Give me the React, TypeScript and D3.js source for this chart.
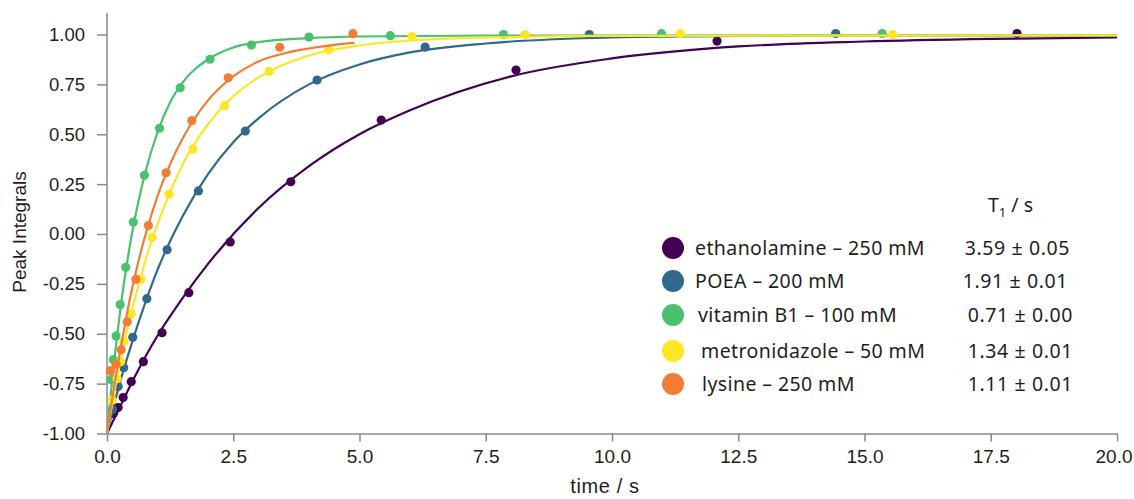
import React, { useRef, useEffect } from 'react'
import * as d3 from 'd3'

const W = 1134
const H = 499

// legend / series info
const seriesNames = ['ethanolamine – 250 mM', 'POEA – 200 mM', 'vitamin B1 – 100 mM', 'metronidazole – 50 mM', 'lysine – 250 mM']
const t1Labels = ['3.59 ± 0.05', '1.91 ± 0.01', '0.71 ± 0.00', '1.34 ± 0.01', '1.11 ± 0.01']
const colors = ['#440154', '#31688e', '#4ac16d', '#fde725', '#f37c34']

const xTicks = [0, 2.5, 5, 7.5, 10, 12.5, 15, 17.5, 20]
const yTicks = [-1, -0.75, -0.5, -0.25, 0, 0.25, 0.5, 0.75, 1]

// measured points [time, integral]
const ethanolaminePts = [[0.125, -0.9], [0.22, -0.87], [0.32, -0.82], [0.48, -0.74], [0.72, -0.64], [1.09, -0.495], [1.62, -0.294], [2.44, -0.04], [3.64, 0.262], [5.43, 0.571], [8.1, 0.822], [12.08, 0.967], [18.02, 1.005]]
const poeaPts = [[0.11, -0.88], [0.22, -0.765], [0.33, -0.67], [0.51, -0.518], [0.79, -0.324], [1.19, -0.079], [1.81, 0.216], [2.74, 0.516], [4.16, 0.772], [6.3, 0.937], [9.55, 1.0], [14.43, 1.005]]
const vitaminPts = [[0.08, -0.73], [0.125, -0.63], [0.18, -0.511], [0.26, -0.354], [0.37, -0.167], [0.52, 0.06], [0.74, 0.294], [1.04, 0.53], [1.45, 0.733], [2.04, 0.876], [2.86, 0.947], [4.0, 0.987], [5.61, 0.994], [7.85, 1.0], [10.98, 1.004], [15.35, 1.005]]
const metronidazolePts = [[0.105, -0.832], [0.2, -0.725], [0.27, -0.64], [0.34, -0.538], [0.48, -0.4], [0.67, -0.227], [0.89, -0.018], [1.23, 0.2], [1.7, 0.426], [2.33, 0.643], [3.21, 0.815], [4.39, 0.924], [6.04, 0.99], [8.28, 1.0], [11.35, 1.004], [15.56, 1.0]]
const lysinePts = [[0.07, -0.685], [0.18, -0.653], [0.28, -0.58], [0.4, -0.44], [0.574, -0.227], [0.82, 0.042], [1.17, 0.307], [1.68, 0.568], [2.4, 0.783], [3.42, 0.936], [4.87, 1.004]]

// fitted curves [time, integral]
const ethanolamineFit = [[0, -1], [0.25, -0.87], [0.5, -0.74], [1, -0.51], [1.5, -0.32], [2, -0.15], [3, 0.13], [4, 0.34], [5, 0.5], [6, 0.62], [8, 0.79], [10, 0.88], [12.5, 0.94], [15, 0.965], [17.5, 0.978], [20, 0.985]]
const poeaFit = [[0, -1], [0.25, -0.75], [0.5, -0.54], [0.75, -0.35], [1, -0.18], [1.5, 0.09], [2, 0.3], [2.5, 0.46], [3, 0.58], [4, 0.75], [5, 0.85], [6, 0.91], [7.5, 0.955], [10, 0.985], [12.5, 0.993], [15, 0.995], [20, 0.995]]
const vitaminFit = [[0, -1], [0.1, -0.74], [0.2, -0.51], [0.3, -0.31], [0.4, -0.14], [0.5, 0.01], [0.75, 0.3], [1, 0.51], [1.25, 0.66], [1.5, 0.76], [2, 0.875], [2.5, 0.935], [3, 0.962], [4, 0.982], [5, 0.99], [7.5, 0.995], [20, 0.997]]
const metronidazoleFit = [[0, -1], [0.2, -0.72], [0.4, -0.48], [0.6, -0.28], [0.8, -0.1], [1, 0.05], [1.25, 0.21], [1.5, 0.35], [2, 0.55], [2.5, 0.69], [3, 0.785], [4, 0.895], [5, 0.945], [6, 0.97], [8, 0.987], [10, 0.993], [20, 0.996]]
const lysineFit = [[0, -1], [0.15, -0.75], [0.3, -0.53], [0.45, -0.33], [0.6, -0.16], [0.8, 0.03], [1, 0.19], [1.25, 0.35], [1.5, 0.48], [2, 0.67], [2.5, 0.79], [3, 0.865], [3.5, 0.905], [4, 0.93], [4.5, 0.948], [4.9, 0.958]]

const allPts = [ethanolaminePts, poeaPts, vitaminPts, metronidazolePts, lysinePts]
const allFits = [ethanolamineFit, poeaFit, vitaminFit, metronidazoleFit, lysineFit]

const App = () => {
    const chartRef = useRef<SVGSVGElement>(null)

    useEffect(() => {
        if (!chartRef.current) return
        const svg = d3.select(chartRef.current)
        svg.selectAll('*').remove()

        const x = d3.scaleLinear().domain([0, 20]).range([107, 1117])
        const y = d3.scaleLinear().domain([-1, 1]).range([433.5, 34.5])
        const axisColor = '#8a8a8a'
        const textColor = '#1e1e1e'
        const axisFont = 'Liberation Sans, Arial, sans-serif'
        const legendFont = 'Noto Sans, Open Sans, sans-serif'

        // y axis
        const gy = svg.append('g')
            .attr('transform', 'translate(107,0)')
            .call(d3.axisLeft(y)
                .tickValues(yTicks)
                .tickSize(10)
                .tickSizeOuter(0)
                .tickPadding(12)
                .tickFormat((d: any) => (+d).toFixed(2))
            )
        gy.select('.domain').remove()
        gy.selectAll('line').attr('stroke', axisColor).attr('stroke-width', 1.5)
        gy.selectAll('text')
            .attr('fill', textColor)
            .style('font-family', axisFont)
            .style('font-size', '18.5px')
        svg.append('line')
            .attr('x1', 107).attr('x2', 107)
            .attr('y1', 13).attr('y2', y(-1))
            .attr('stroke', axisColor).attr('stroke-width', 1.5)

        // x axis
        const gx = svg.append('g')
            .attr('transform', `translate(0,${y(-1)})`)
            .call(d3.axisBottom(x)
                .tickValues(xTicks)
                .tickSize(8)
                .tickSizeOuter(0)
                .tickPadding(8)
                .tickFormat((d: any) => (+d).toFixed(1))
            )
        gx.select('.domain').attr('stroke', axisColor).attr('stroke-width', 1.5)
        gx.selectAll('line').attr('stroke', axisColor).attr('stroke-width', 1.5)
        gx.selectAll('text')
            .attr('fill', textColor)
            .style('font-family', axisFont)
            .style('font-size', '19px')
        // keep the last label inside the frame
        gx.selectAll('.tick text')
            .filter((d: any) => d === 20)
            .attr('text-anchor', 'end')
            .attr('dx', 15)

        svg.append('text')
            .attr('x', 605).attr('y', 493)
            .attr('text-anchor', 'middle')
            .attr('fill', textColor)
            .style('font-family', axisFont)
            .style('font-size', '20px')
            .style('letter-spacing', '0.6px')
            .text('time / s')

        svg.append('text')
            .attr('transform', 'translate(26,232) rotate(-90)')
            .attr('text-anchor', 'middle')
            .attr('fill', textColor)
            .style('font-family', axisFont)
            .style('font-size', '19px')
            .text('Peak Integrals')

        const line = d3.line<number[]>()
            .x(d => x(d[0]))
            .y(d => y(d[1]))
            .curve(d3.curveMonotoneX)

        allFits.forEach((fit, i) => {
            svg.append('path')
                .datum(fit)
                .attr('fill', 'none')
                .attr('stroke', colors[i])
                .attr('stroke-width', 2.2)
                .attr('d', line)

            svg.append('g')
                .selectAll('circle')
                .data(allPts[i])
                .join('circle')
                .attr('cx', d => x(d[0]))
                .attr('cy', d => y(d[1]))
                .attr('r', 4.6)
                .attr('fill', colors[i])
        })

        // legend
        const legend = svg.append('g')
        const rowY = [248, 281, 315, 351, 384]
        const indent = [0, 0, 3, 6, 7]
        const valueRight = [1070, 1068, 1073, 1073, 1073]
        seriesNames.forEach((name, i) => {
            legend.append('circle')
                .attr('cx', 673).attr('cy', rowY[i]).attr('r', 11)
                .attr('fill', colors[i])
            legend.append('text')
                .attr('x', 695 + indent[i]).attr('y', rowY[i])
                .attr('dy', '0.36em')
                .attr('fill', textColor)
                .style('font-family', legendFont)
                .style('font-size', '19.5px')
                .style('letter-spacing', '0.4px')
                .text(name)
            legend.append('text')
                .attr('x', valueRight[i]).attr('y', rowY[i])
                .attr('dy', '0.36em')
                .attr('text-anchor', 'end')
                .attr('fill', textColor)
                .style('font-family', legendFont)
                .style('font-size', '19.5px')
                .style('letter-spacing', '0.6px')
                .text(t1Labels[i])
        })
        const head = legend.append('text')
            .attr('x', 988).attr('y', 212)
            .attr('fill', textColor)
            .style('font-family', legendFont)
            .style('font-size', '19.5px')
        head.append('tspan').text('T')
        head.append('tspan').attr('dy', 5).style('font-size', '13px').text('1')
        head.append('tspan').attr('dy', -5).text(' / s')
    }, [])

    return (
        <div style={{ position: 'absolute', left: 0, top: 0 }}>
            <svg ref={chartRef} width={W} height={H} style={{ background: '#fff', display: 'block' }} />
        </div>
    )
}

export default App
